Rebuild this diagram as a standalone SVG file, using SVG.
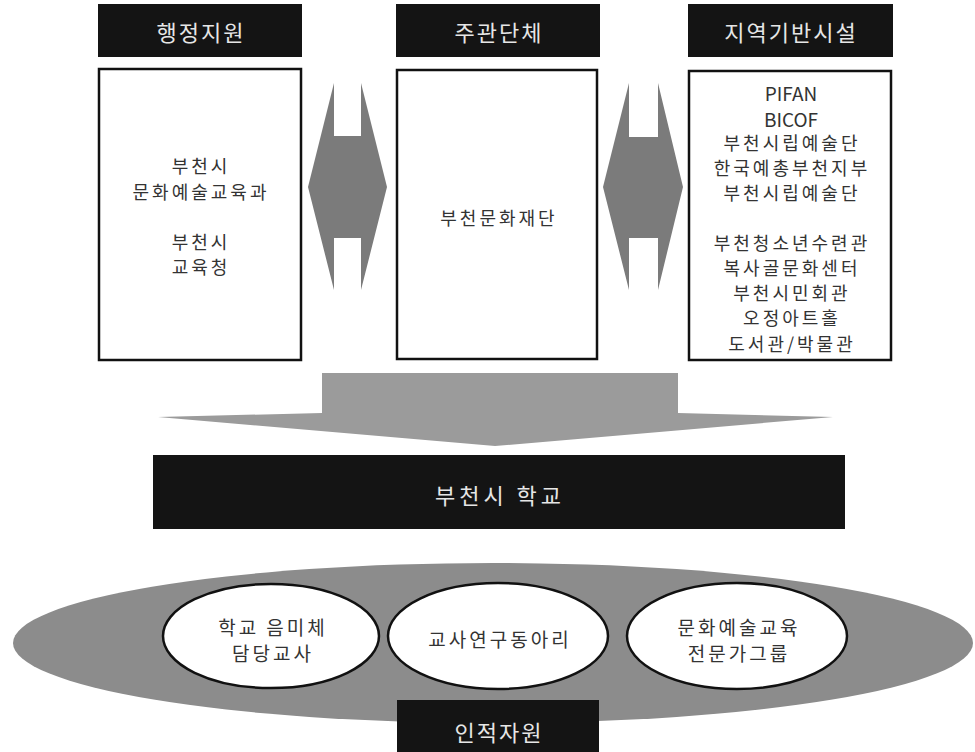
<svg xmlns="http://www.w3.org/2000/svg" width="975" height="752" viewBox="0 0 975 752">
<style>
text{font-family:"Noto Sans CJK KR","Noto Sans",sans-serif;text-anchor:middle;dominant-baseline:central}
.hdr{fill:#141414}
.hdrt{fill:#e6e6e6;font-size:22px;letter-spacing:2px}
.box{fill:#fff;stroke:#111;stroke-width:2.5}
.bt{fill:#333;font-size:18px;letter-spacing:3px}
.lat{fill:#333;font-size:19px;letter-spacing:0}
.dbl{fill:#7b7b7b}
.circ{fill:#fff;stroke:#111;stroke-width:2.5}
.ct{fill:#333;font-size:19px;letter-spacing:3px}
</style>
<rect width="975" height="752" fill="#fff"/>
<g id="connectors">
<polygon class="dbl" points="334,83 334,136 361,136 361,83 387,187 361,290 361,238 334,238 334,290 308,187"/>
<polygon class="dbl" points="629,83 629,137 658,137 658,83 683,187 658,290 658,238 629,238 629,290 603,187"/>
<polygon fill="#9b9b9b" points="322,373 678,373 678,413 833,417 495,446 158,417 322,413"/>
</g>
<g id="admin">
<rect class="hdr" x="98" y="4" width="204" height="53"/>
<text class="hdrt" x="201" y="31">행정지원</text>
<rect class="box" x="99" y="69" width="202" height="291"/>
<text class="bt" x="201" y="165">부천시</text>
<text class="bt" x="201" y="191">문화예술교육과</text>
<text class="bt" x="201" y="241">부천시</text>
<text class="bt" x="201" y="266">교육청</text>
</g>
<g id="host">
<rect class="hdr" x="396" y="4" width="204" height="53"/>
<text class="hdrt" x="499" y="31">주관단체</text>
<rect class="box" x="397" y="70" width="200" height="289"/>
<text class="bt" x="499" y="217">부천문화재단</text>
</g>
<g id="local">
<rect class="hdr" x="688" y="4" width="205" height="53"/>
<text class="hdrt" x="791" y="31">지역기반시설</text>
<rect class="box" x="689" y="71" width="202" height="289"/>
<text class="lat" x="791" y="92">PIFAN</text>
<text class="lat" x="791" y="118">BICOF</text>
<text class="bt" x="792" y="142">부천시립예술단</text>
<text class="bt" x="792" y="167">한국예총부천지부</text>
<text class="bt" x="792" y="192">부천시립예술단</text>
<text class="bt" x="792" y="242">부천청소년수련관</text>
<text class="bt" x="792" y="267">복사골문화센터</text>
<text class="bt" x="792" y="292">부천시민회관</text>
<text class="bt" x="792" y="317">오정아트홀</text>
<text class="bt" x="792" y="343">도서관/박물관</text>
</g>
<g id="school">
<rect class="hdr" x="153" y="455" width="692" height="74"/>
<text class="hdrt" x="500" y="494" style="letter-spacing:4px">부천시 학교</text>
</g>
<g id="human">
<ellipse cx="493" cy="643" rx="480" ry="80" fill="#8c8c8c"/>
<g id="c1">
<ellipse class="circ" cx="271" cy="636" rx="108" ry="52"/>
<text class="ct" x="273" y="626">학교 음미체</text>
<text class="ct" x="273" y="652">담당교사</text>
</g>
<g id="c2">
<ellipse class="circ" cx="498" cy="636" rx="110" ry="53"/>
<text class="ct" x="500" y="638">교사연구동아리</text>
</g>
<g id="c3">
<ellipse class="circ" cx="737" cy="636" rx="110" ry="53"/>
<text class="ct" x="739" y="626">문화예술교육</text>
<text class="ct" x="739" y="652">전문가그룹</text>
</g>
<rect class="hdr" x="397" y="700" width="202" height="60"/>
<text class="hdrt" x="499" y="731">인적자원</text>
</g>
</svg>
